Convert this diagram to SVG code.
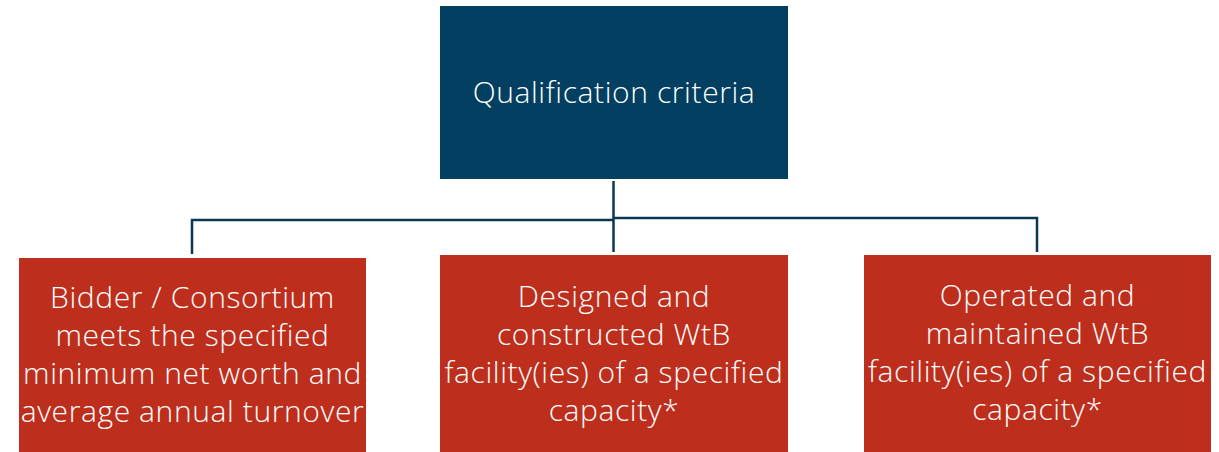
<svg xmlns="http://www.w3.org/2000/svg" width="1219" height="452" viewBox="0 0 1219 452">
<style>
.top{fill:#023F61}
.box{fill:#BE2E1C}
.t{font-family:"Open Sans","Noto Sans",sans-serif;font-weight:300;fill:#FFFFFF;text-anchor:middle;font-size:30px;letter-spacing:0.6px}
.c{fill:none;stroke:#0A3756;stroke-width:2.5}
</style>
<rect width="1219" height="452" fill="#FFFFFF"/>
<g id="connectors">
<path class="c" d="M613.5,181 V252"/>
<path class="c" d="M192,254 V220 H613.5"/>
<path class="c" d="M613.5,218 H1037 V252"/>
</g>
<g id="root">
<rect class="top" x="440" y="6" width="348" height="173"/>
<text class="t" x="614" y="103">Qualification criteria</text>
</g>
<g id="financial">
<rect class="box" x="19" y="258" width="347" height="194"/>
<text class="t" x="192.5" y="308">Bidder / Consortium</text>
<text class="t" x="192.5" y="346">meets the specified</text>
<text class="t" x="192.5" y="384">minimum net worth and</text>
<text class="t" x="192.5" y="422">average annual turnover</text>
</g>
<g id="design">
<rect class="box" x="440" y="255" width="348" height="197"/>
<text class="t" x="614" y="307">Designed and</text>
<text class="t" x="614" y="345">constructed WtB</text>
<text class="t" x="614" y="383">facility(ies) of a specified</text>
<text class="t" x="614" y="421">capacity*</text>
</g>
<g id="operate">
<rect class="box" x="864" y="255" width="347" height="197"/>
<text class="t" x="1037.5" y="306">Operated and</text>
<text class="t" x="1037.5" y="344">maintained WtB</text>
<text class="t" x="1037.5" y="382">facility(ies) of a specified</text>
<text class="t" x="1037.5" y="420">capacity*</text>
</g>
</svg>
